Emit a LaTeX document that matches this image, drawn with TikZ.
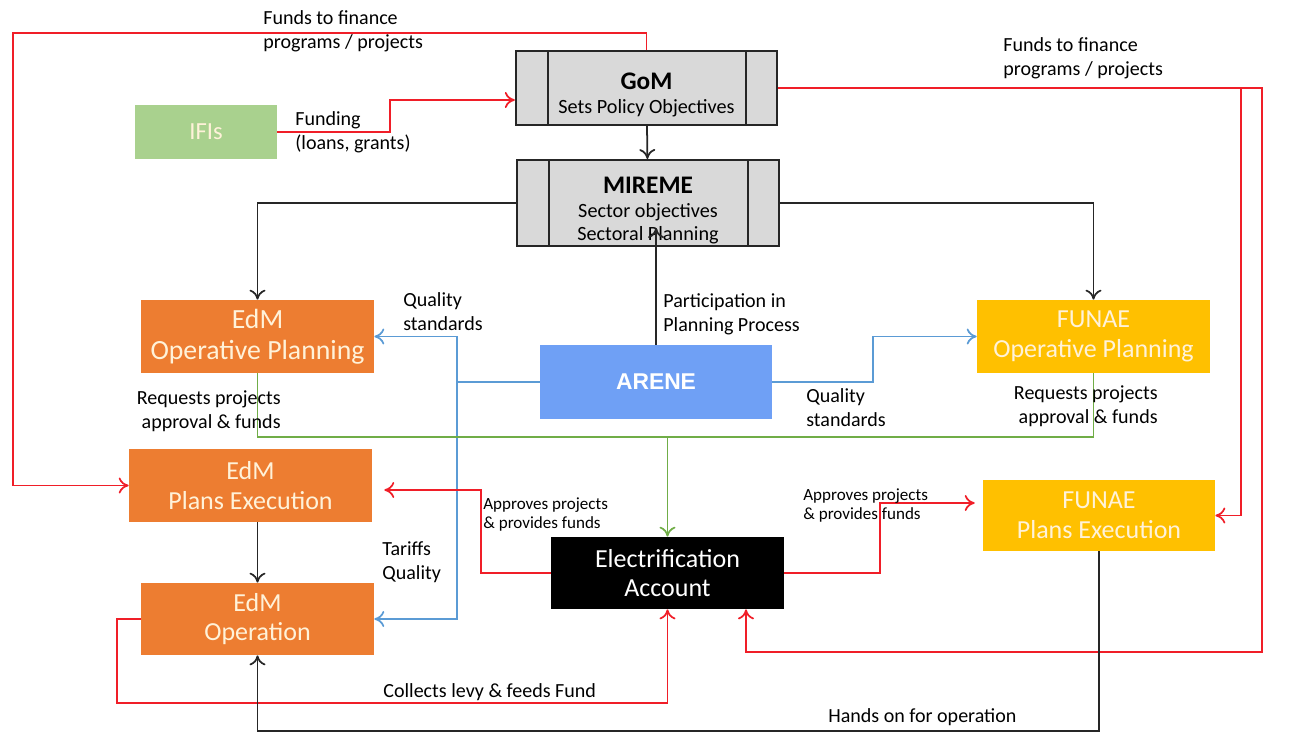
\documentclass[tikz,border=0pt]{standalone}
\usepackage{fontspec}
\setmainfont{Carlito}
\newfontfamily\arialfont{Liberation Sans}
\usepackage{xcolor}
\usetikzlibrary{arrows.meta}
\definecolor{gomgray}{HTML}{D9D9D9}
\definecolor{ifigreen}{HTML}{A9D18E}
\definecolor{edmorange}{HTML}{ED7D31}
\definecolor{funaeyellow}{HTML}{FFC000}
\definecolor{areneblue}{HTML}{6FA0F5}
\definecolor{boxtext}{HTML}{FFF2D9}
\definecolor{linered}{HTML}{F01E28}
\definecolor{lineblue}{HTML}{5B9BD5}
\definecolor{linegreen}{HTML}{70AD47}

\begin{document}
\begin{tikzpicture}[
  x=0.02cm, y=-0.02cm,
  font=\fontsize{11.4}{13.6}\selectfont,
  govbox/.style={draw=black!85, line width=1.1pt, fill=gomgray, align=center, minimum width=5.23cm, inner sep=0pt},
  unit/.style={align=center, minimum width=4.66cm, minimum height=1.46cm, inner sep=0pt, text=boxtext, font=\fontsize{14.8}{17}\selectfont},
  lbl/.style={inner sep=0pt, align=left},
  small/.style={lbl, font=\fontsize{9.7}{10.8}\selectfont},
  arrow/.style={-{To[length=2mm, width=3.2mm]}, line width=1pt},
  blk/.style={line width=1pt, draw=black!85},
  redline/.style={line width=1pt, draw=linered},
  blueline/.style={line width=1pt, draw=lineblue},
  greenline/.style={line width=1pt, draw=linegreen}
]
\useasboundingbox (0,0) rectangle (1300,734);
\node[govbox, minimum height=1.48cm] (gom) at (646.5,88) {\rule{0pt}{17pt}{\fontsize{14.4}{16}\selectfont\bfseries GoM}\\[0pt]\fontsize{11.5}{13.6}\selectfont Sets Policy Objectives};
\node[govbox, minimum height=1.72cm] (mireme) at (648,203) {\rule{0pt}{18pt}{\fontsize{14.4}{16}\selectfont\bfseries MIREME}\\[0pt]\fontsize{11.5}{13.6}\selectfont Sector objectives\\\fontsize{11.5}{13.6}\selectfont Sectoral Planning};
\foreach \b in {gom,mireme}{
  \draw[blk] ([xshift=0.66cm]\b.north west) -- ([xshift=0.66cm]\b.south west);
  \draw[blk] ([xshift=-0.64cm]\b.north east) -- ([xshift=-0.64cm]\b.south east);
}
\node[unit, fill=ifigreen, minimum width=2.84cm, minimum height=1.08cm, font=\fontsize{14}{17}\selectfont] (ifis) at (206,132) {IFIs};
\node[unit, fill=edmorange, font=\fontsize{15.8}{17.5}\selectfont] (edmop) at (257.5,336.5) {EdM\\Operative Planning};
\node[unit, fill=areneblue, minimum width=4.64cm, minimum height=1.48cm, text=white, font=\arialfont\fontsize{13}{16}\selectfont\bfseries] (arene) at (656,382) {ARENE};
\node[unit, fill=funaeyellow] (funaeop) at (1093.5,336.5) {FUNAE\\Operative Planning};
\node[unit, fill=edmorange, minimum width=4.86cm] (edmpe) at (250.5,485.5) {EdM\\Plans Execution};
\node[unit, fill=edmorange, minimum height=1.44cm] (edmoper) at (257.5,619) {EdM\\Operation};
\node[unit, fill=black, text=white, minimum height=1.44cm] (account) at (667.5,573) {Electrification\\Account};
\node[unit, fill=funaeyellow, minimum width=4.64cm, minimum height=1.42cm] (funaepe) at (1099,515.5) {FUNAE\\Plans Execution};
\coordinate (mirin) at (656,228);

\draw[redline, arrow] (gom.north) |- (13,33) |- (edmpe.west);
\draw[redline, arrow] (ifis.east) -- (390,132) |- ([yshift=-0.24cm]gom.west);
\draw[redline, arrow] (gom.east) -| (1262,652) -| ([xshift=1.57cm]account.south);
\draw[redline, arrow] (gom.east -| 1241,0) |- (funaepe.east);
\draw[blk, arrow] (gom) -- (mireme);
\draw[blk, arrow] (mireme.west) -| (edmop.north);
\draw[blk, arrow] (mireme.east) -| (funaeop.north);
\draw[blk, arrow] (arene.north) -- (mirin);
\draw[blueline, arrow] (arene.west) -| (457,336.5) -- (edmop.east);
\draw[blueline, arrow] (arene.west -| 457,0) |- (edmoper.east);
\draw[blueline, arrow] (arene.east) -- (873,382) |- (funaeop.west);
\draw[greenline] (edmop.south) |- (1093.5,437) -- (funaeop.south);
\draw[greenline, arrow] (account.north |- 0,437) -- (account.north);
\draw[redline, arrow, shorten >=0.24cm] (account.west) -| (481,490) -- (edmpe.east |- 0,490);
\draw[redline, arrow, shorten >=0.16cm] (account.east) -| (880,503) -- (funaepe.west |- 0,503);
\draw[redline, arrow] (edmoper.west) -| (117,703) -| (account.south);
\draw[blk, arrow] (funaepe.south) |- (258,731) -| (edmoper.south);
\draw[blk, arrow] (edmpe.south -| edmoper.north) -- (edmoper.north);

\node[lbl, anchor=north west] (lfundl) at (263,10) {Funds to finance\\programs / projects};
\node[lbl, anchor=north west] (lfundr) at (1003,37) {Funds to finance\\programs / projects};
\node[lbl, anchor=north west] (lifis) at (295,111) {Funding\\(loans, grants)};
\node[lbl, anchor=north west] (lpart) at (663,293) {Participation in\\Planning Process};
\node[lbl, anchor=north west] (lqualedm) at (403,292) {Quality\\standards};
\node[lbl, anchor=north west] (lqualfun) at (806,388) {Quality\\standards};
\node[lbl, anchor=north east, align=right] (lreqedm) at (281,390) {Requests projects\\approval \& funds};
\node[lbl, anchor=north east, align=right] (lreqfun) at (1158,385) {Requests projects\\approval \& funds};
\node[small, anchor=north west] (lapredm) at (483,497) {Approves projects\\\& provides funds};
\node[small, anchor=north west] (laprfun) at (803,488) {Approves projects\\\& provides funds};
\node[lbl, anchor=north west] (ltariff) at (382,541) {Tariffs\\Quality};
\node[lbl, anchor=north west] (lcollect) at (383,683) {Collects levy \& feeds Fund};
\node[lbl, anchor=north west] (lhands) at (828,708) {Hands on for operation};
\end{tikzpicture}
\end{document}
